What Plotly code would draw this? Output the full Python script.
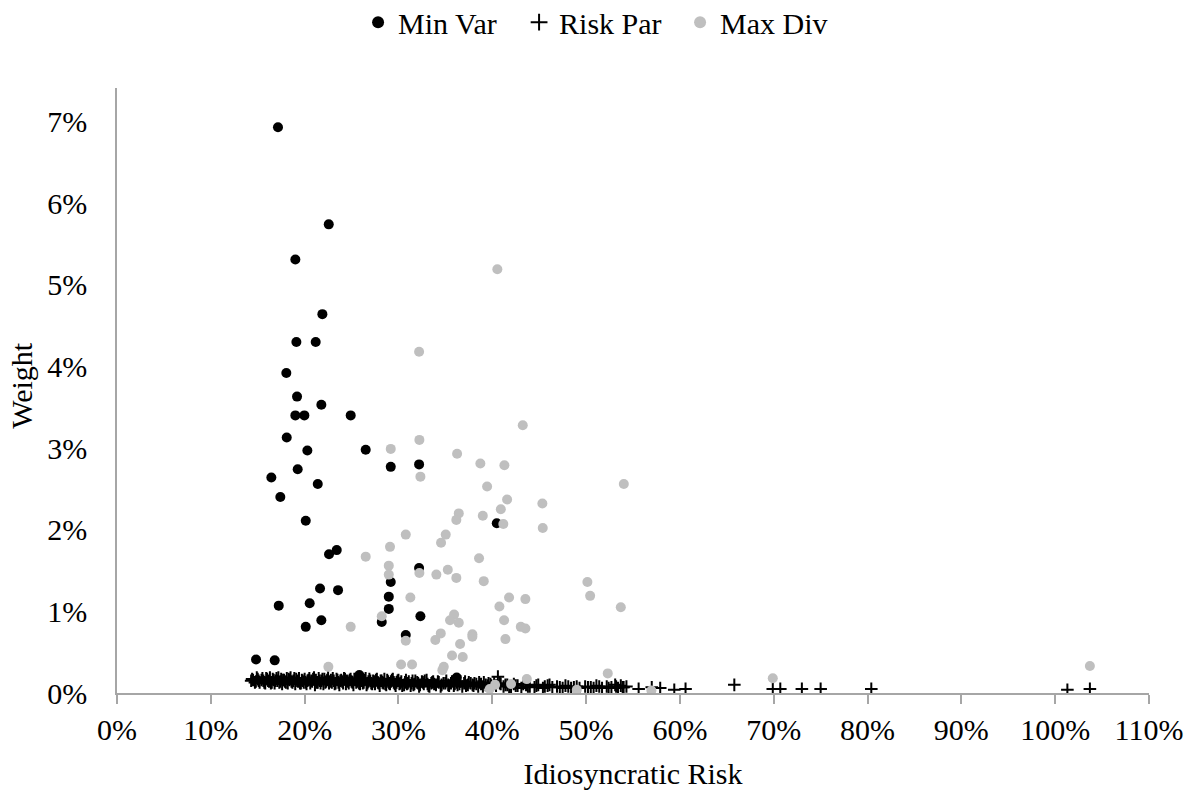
import plotly.graph_objects as go

# ---- Data (weights and idiosyncratic risk, as fractions) ----
minvar_x = [0.1716, 0.2257, 0.1901, 0.2189, 0.1912, 0.2118, 0.1805, 0.1919, 0.2178, 0.1901,
            0.1997, 0.2491, 0.1809, 0.2029, 0.2651, 0.1926, 0.2918, 0.3220, 0.1645, 0.2140,
            0.1741, 0.2012, 0.4048, 0.2260, 0.2342, 0.3220, 0.2164, 0.2356, 0.2918, 0.2897,
            0.2897, 0.1724, 0.2054, 0.2178, 0.2012, 0.3234, 0.2822, 0.3078, 0.1482, 0.1681,
            0.2583, 0.3621]
minvar_y = [0.0693, 0.0574, 0.0531, 0.0464, 0.0430, 0.0430, 0.0392, 0.0363, 0.0353, 0.0340,
            0.0340, 0.0340, 0.0313, 0.0297, 0.0298, 0.0274, 0.0277, 0.0280, 0.0264, 0.0256,
            0.0240, 0.0211, 0.0208, 0.0170, 0.0175, 0.0153, 0.0128, 0.0126, 0.0136, 0.0118,
            0.0103, 0.0107, 0.0110, 0.0089, 0.0081, 0.0094, 0.0087, 0.0071, 0.0041, 0.0040,
            0.0022, 0.0019]

riskpar_x_pct = [
    14.3, 14.5, 14.8, 15.0, 15.2, 15.5, 15.6, 15.8, 16.0, 16.2,
    16.3, 16.5, 16.7, 16.8, 17.0, 17.1, 17.3, 17.5, 17.6, 17.8,
    17.9, 18.1, 18.2, 18.4, 18.5, 18.7, 18.8, 19.0, 19.1, 19.3,
    19.4, 19.6, 19.7, 19.9,
    20.0, 20.2, 20.3, 20.5, 20.6, 20.8, 20.9, 21.1, 21.2, 21.4,
    21.5, 21.7, 21.8, 22.0, 22.1, 22.3, 22.5, 22.6, 22.8, 22.9,
    23.1, 23.2, 23.4, 23.6, 23.7, 23.9, 24.0, 24.2, 24.4, 24.5,
    24.7, 24.9, 25.0, 25.2, 25.4, 25.5, 25.7, 25.9, 26.1, 26.2,
    26.4, 26.6, 26.8, 26.9, 27.1, 27.3, 27.5, 27.6, 27.8, 28.0,
    28.2, 28.4, 28.5, 28.7, 28.9, 29.1, 29.3, 29.5, 29.7, 29.9,
    30.1, 30.3, 30.6, 30.8, 31.0, 31.3, 31.5, 31.7, 32.0, 32.2,
    32.5, 32.7, 33.0, 33.2, 33.5, 33.7, 34.0, 34.3, 34.5, 34.8,
    35.1, 35.3, 35.6, 35.9, 36.2, 36.5, 36.8, 37.1, 37.4, 37.7,
    38.0, 38.3, 38.6, 39.0, 39.3, 39.6, 39.9,
    40.2, 40.6, 40.9, 41.2, 41.6, 42.0, 42.3, 42.7, 43.1, 43.6,
    44.0, 44.5, 44.9, 45.4, 45.9, 46.4, 46.9, 47.5, 48.1, 48.7,
    49.3, 49.9, 50.5, 51.1, 51.7, 52.2, 52.7, 53.1, 53.4, 53.7,
    54.0, 54.3,
    55.6, 57.0, 57.9, 59.4, 60.6, 65.8, 69.9, 70.7, 73.0, 75.0,
    80.4, 101.3, 103.7,
    14.4, 14.7, 14.9, 15.1, 15.4, 15.7, 15.9, 16.1, 16.4, 16.6,
    16.9, 17.2, 17.4, 17.7, 18.0, 18.3, 18.6, 18.9, 19.2, 19.5,
    19.8, 20.1, 20.4, 20.7, 21.0, 21.3, 21.6, 21.9, 22.2, 22.4,
    22.7, 23.0, 23.3, 23.5, 23.8, 24.1, 24.3, 24.6, 24.8, 25.1,
    25.3, 25.6, 25.8, 26.0, 26.3, 26.5, 26.7, 27.0, 27.2, 27.4,
    27.7, 27.9, 28.1, 28.3, 28.6, 28.8, 29.0, 29.2, 29.4, 29.6,
    29.8, 30.0, 30.2, 30.4, 30.7, 30.9, 31.1, 31.4, 31.6, 31.8,
    32.1, 32.3, 32.6, 32.8, 33.1, 33.3, 33.6, 33.8, 34.2, 34.6,
    35.0, 35.4, 35.7, 36.0, 36.3, 36.6, 37.0, 37.2, 37.5, 37.9,
    38.1, 38.5, 38.8, 39.1, 39.5, 39.8, 40.4, 40.8, 41.4, 41.8,
    42.5, 43.3, 43.8, 44.7, 45.6, 46.1, 47.2, 47.8, 48.4, 49.0,
    50.2, 50.8, 51.4, 52.4, 53.2, 53.9]
riskpar_y_pct = [
    0.15, 0.16, 0.14, 0.17, 0.13, 0.18, 0.15, 0.12, 0.17, 0.14,
    0.19, 0.13, 0.16, 0.12, 0.18, 0.15, 0.13, 0.17, 0.11, 0.16,
    0.14, 0.18, 0.12, 0.16, 0.19, 0.13, 0.15, 0.11, 0.17, 0.14,
    0.18, 0.12, 0.16, 0.13,
    0.17, 0.11, 0.15, 0.18, 0.12, 0.14, 0.17, 0.10, 0.16, 0.13,
    0.18, 0.12, 0.15, 0.11, 0.17, 0.14, 0.19, 0.12, 0.16, 0.13,
    0.15, 0.11, 0.17, 0.13, 0.10, 0.16, 0.14, 0.18, 0.11, 0.15,
    0.12, 0.17, 0.14, 0.10, 0.16, 0.13, 0.18, 0.11, 0.15, 0.12,
    0.16, 0.10, 0.14, 0.17, 0.12, 0.15, 0.11, 0.16, 0.13, 0.09,
    0.15, 0.12, 0.17, 0.10, 0.14, 0.11, 0.16, 0.13, 0.09, 0.15,
    0.11, 0.14, 0.10, 0.16, 0.12, 0.09, 0.15, 0.11, 0.13, 0.08,
    0.14, 0.11, 0.16, 0.09, 0.12, 0.14, 0.10, 0.13, 0.08, 0.12,
    0.15, 0.10, 0.12, 0.09, 0.13, 0.11, 0.08, 0.14, 0.10, 0.12,
    0.09, 0.11, 0.13, 0.08, 0.10, 0.12, 0.09,
    0.12, 0.20, 0.11, 0.08, 0.10, 0.07, 0.11, 0.09, 0.06, 0.10,
    0.08, 0.07, 0.10, 0.06, 0.09, 0.07, 0.08, 0.06, 0.08, 0.07,
    0.06, 0.08, 0.07, 0.09, 0.06, 0.08, 0.07, 0.10, 0.06, 0.09,
    0.07, 0.08,
    0.05, 0.07, 0.06, 0.04, 0.05, 0.10, 0.05, 0.05, 0.05, 0.05,
    0.05, 0.04, 0.05,
    0.17, 0.13, 0.19, 0.15, 0.16, 0.13, 0.18, 0.15, 0.12, 0.17,
    0.15, 0.19, 0.14, 0.16, 0.13, 0.17, 0.14, 0.18, 0.15, 0.12,
    0.15, 0.13, 0.16, 0.15, 0.19, 0.13, 0.15, 0.17, 0.13, 0.16,
    0.14, 0.18, 0.12, 0.16, 0.15, 0.12, 0.17, 0.14, 0.16, 0.13,
    0.17, 0.14, 0.12, 0.16, 0.13, 0.18, 0.12, 0.15, 0.11, 0.14,
    0.17, 0.12, 0.15, 0.13, 0.11, 0.16, 0.12, 0.14, 0.17, 0.11,
    0.13, 0.16, 0.12, 0.09, 0.13, 0.11, 0.14, 0.12, 0.10, 0.15,
    0.12, 0.10, 0.13, 0.15, 0.11, 0.08, 0.13, 0.11, 0.14, 0.10,
    0.12, 0.09, 0.14, 0.11, 0.10, 0.14, 0.12, 0.09, 0.13, 0.10,
    0.12, 0.08, 0.11, 0.13, 0.09, 0.11, 0.09, 0.12, 0.10, 0.07,
    0.09, 0.11, 0.08, 0.09, 0.08, 0.10, 0.07, 0.09, 0.06, 0.08,
    0.07, 0.06, 0.08, 0.06, 0.08, 0.07]
riskpar_x = [v / 100 for v in riskpar_x_pct]
riskpar_y = [v / 100 for v in riskpar_y_pct]

maxdiv_x = [0.4054, 0.3220, 0.4325, 0.3223, 0.2918, 0.3625, 0.3873, 0.4129, 0.3234, 0.3945,
            0.4158, 0.4091, 0.3643, 0.3617, 0.3899, 0.4118, 0.3078, 0.3504, 0.3454, 0.2910,
            0.2651, 0.3859, 0.2897, 0.2897, 0.3223, 0.3404, 0.3526, 0.3617, 0.3909, 0.3127,
            0.4179, 0.4076, 0.4353, 0.2822, 0.3593, 0.3550, 0.3643, 0.4126, 0.4304, 0.2491,
            0.3078, 0.2253, 0.3028, 0.3145, 0.3483, 0.3468, 0.3571, 0.3685, 0.3393, 0.3451,
            0.3657, 0.3788, 0.3788, 0.4140, 0.5370, 0.5231, 0.3973, 0.4030, 0.4200, 0.4368,
            0.4901, 0.5696, 0.6990, 1.0370, 0.5402, 0.4534, 0.4538, 0.5014, 0.5043, 0.4353]
maxdiv_y = [0.0519, 0.0418, 0.0328, 0.0310, 0.0299, 0.0293, 0.0281, 0.0279, 0.0265, 0.0253,
            0.0237, 0.0225, 0.0220, 0.0212, 0.0217, 0.0207, 0.0194, 0.0194, 0.0184, 0.0179,
            0.0167, 0.0165, 0.0156, 0.0145, 0.0147, 0.0145, 0.0151, 0.0141, 0.0137, 0.0117,
            0.0117, 0.0106, 0.0115, 0.0094, 0.0096, 0.0089, 0.0086, 0.0089, 0.0081, 0.0081,
            0.0064, 0.0032, 0.0035, 0.0035, 0.0032, 0.0028, 0.0046, 0.0044, 0.0065, 0.0073,
            0.0060, 0.0072, 0.0069, 0.0066, 0.0105, 0.0024, 0.0005, 0.0010, 0.0011, 0.0017,
            0.0004, 0.0003, 0.0018, 0.0033, 0.0256, 0.0232, 0.0202, 0.0136, 0.0119, 0.0079]

x_tickvals = [0.0, 0.1, 0.2, 0.3, 0.4, 0.5, 0.6, 0.7, 0.8, 0.9, 1.0, 1.1]
y_tickvals = [0.0, 0.01, 0.02, 0.03, 0.04, 0.05, 0.06, 0.07]
x_title = "Idiosyncratic Risk"
y_title = "Weight"

FONT = "Liberation Serif, Times New Roman, serif"
AXIS_GRAY = "#a6a6a6"

fig = go.Figure()
fig.add_trace(go.Scatter(
    x=minvar_x, y=minvar_y, mode="markers", name="Min Var",
    marker=dict(symbol="circle", size=10, color="#000000", line=dict(width=0)),
))
fig.add_trace(go.Scatter(
    x=riskpar_x, y=riskpar_y, mode="markers", name="Risk Par",
    marker=dict(symbol="cross-thin", size=9, color="#000000",
                line=dict(width=2, color="#000000")),
))
fig.add_trace(go.Scatter(
    x=maxdiv_x, y=maxdiv_y, mode="markers", name="Max Div",
    marker=dict(symbol="circle", size=10, color="#bfbfbf", line=dict(width=0)),
))

fig.add_annotation(
    text=y_title, textangle=-90, xref="paper", yref="paper",
    x=-0.092, y=0.508, xanchor="center", yanchor="middle", showarrow=False,
    font=dict(family=FONT, size=30, color="#000000"),
)

fig.update_layout(
    width=1192, height=792,
    margin=dict(l=117, r=43, t=88, b=99),
    paper_bgcolor="white", plot_bgcolor="white",
    font=dict(family=FONT, size=30, color="#000000"),
    showlegend=True,
    legend=dict(
        orientation="h", xref="container", yref="container",
        x=0.503, xanchor="center", y=0.972, yanchor="middle",
        font=dict(family=FONT, size=30, color="#000000"),
        itemsizing="constant", itemwidth=30, tracegroupgap=0,
        entrywidth=116, entrywidthmode="pixels",
        bgcolor="rgba(0,0,0,0)",
    ),
    xaxis=dict(
        range=[0, 1.10], tickvals=x_tickvals, tickformat=".0%",
        showgrid=False, zeroline=False, automargin=False,
        showline=True, linecolor=AXIS_GRAY, linewidth=1.5,
        ticks="outside", ticklen=9, tickcolor=AXIS_GRAY, tickwidth=1.5,
        tickfont=dict(family=FONT, size=30, color="#000000"),
        title=dict(text=x_title, font=dict(family=FONT, size=30, color="#000000"), standoff=18),
    ),
    yaxis=dict(
        range=[0, 0.0741], tickvals=y_tickvals, tickformat=".0%",
        showgrid=False, zeroline=False, automargin=False,
        showline=True, linecolor=AXIS_GRAY, linewidth=1.5,
        ticks="", ticklabelstandoff=22,
        tickfont=dict(family=FONT, size=30, color="#000000"),
    ),
)

fig.write_html("out.html")
